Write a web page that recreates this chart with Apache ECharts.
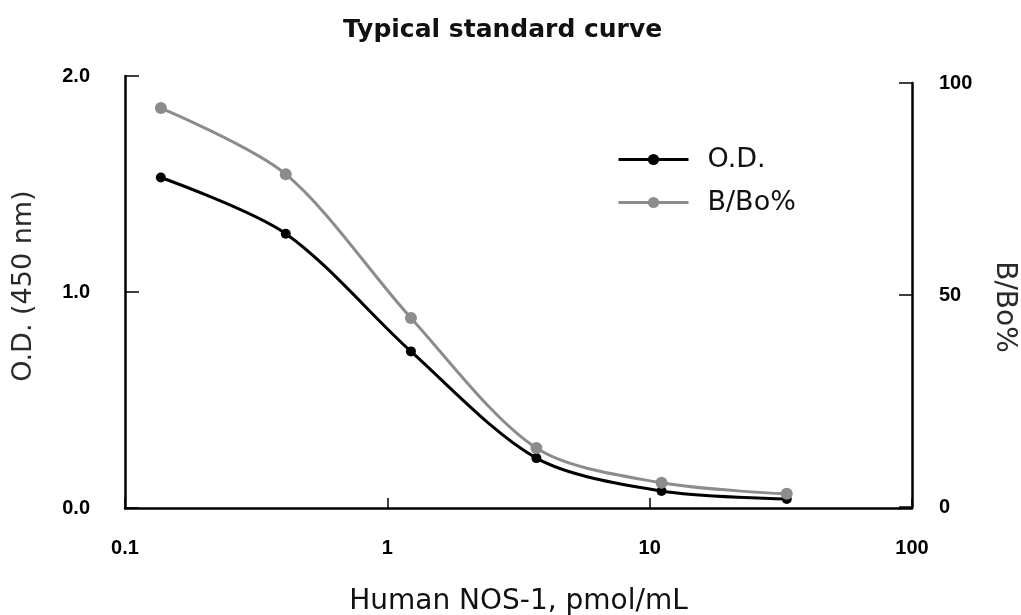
<!DOCTYPE html>
<html>
<head>
<meta charset="utf-8">
<script src="https://cdn.jsdelivr.net/npm/echarts@6/dist/echarts.min.js"></script>
<style>
html,body{margin:0;padding:0;background:#fff;}
#chart{width:1021px;height:615px;}
</style>
</head>
<body>
<div id="chart"></div>
<script>
// Concentration (Human NOS-1, pmol/mL)
const concentrations = [0.137, 0.41, 1.23, 3.7, 11.1, 33.3];
// O.D. at 450 nm
const odValues = [1.53, 1.27, 0.725, 0.231, 0.079, 0.042];
// B/Bo %
const bboValues = [94.1, 78.5, 44.6, 13.9, 5.7, 3.1];
const seriesNames = ['O.D.', 'B/Bo%'];
const xTickLabels = ['0.1', '1', '10', '100'];

const chart = echarts.init(document.getElementById('chart'));
const wide = '"DejaVu Sans", sans-serif';
const narrow = '"Liberation Sans", Arial, sans-serif';

const xCommon = {
  type: 'log', logBase: 10, min: 0.1, max: 100,
  splitLine: {show: false},
  minorTick: {show: false}
};

chart.setOption({
  animation: false,
  backgroundColor: '#ffffff',
  title: {
    text: 'Typical standard curve',
    left: 338, top: 13,
    textStyle: {fontFamily: wide, fontSize: 25, fontWeight: 'bold', color: '#111'}
  },
  legend: {
    data: seriesNames,
    orient: 'vertical',
    left: 617, top: 146, padding: 0,
    itemWidth: 70, itemHeight: 14, itemGap: 16,
    lineStyle: {width: 3},
    textStyle: {fontFamily: wide, fontSize: 27, color: '#111', padding: [0, 0, 0, 14]}
  },
  grid: [
    {left: 125, right: 109, top: 76, bottom: 107, outerBoundsMode: 'none', containLabel: false},
    {left: 125, right: 109, top: 83, bottom: 108, outerBoundsMode: 'none', containLabel: false}
  ],
  xAxis: [
    Object.assign({}, xCommon, {
      gridIndex: 0,
      name: 'Human NOS-1, pmol/mL',
      nameLocation: 'middle', nameGap: 80,
      nameTextStyle: {fontFamily: wide, fontSize: 28, color: '#111'},
      axisLine: {show: true, lineStyle: {color: '#000', width: 2.5}},
      axisTick: {show: true, inside: true, length: 10, lineStyle: {color: '#000', width: 1.5}},
      axisLabel: {
        margin: 30, fontFamily: narrow, fontSize: 20, fontWeight: 'bold', color: '#000',
        formatter: function (v) {
          const i = Math.round(Math.log10(v)) + 1;
          return xTickLabels[i] !== undefined ? xTickLabels[i] : '';
        }
      }
    }),
    Object.assign({}, xCommon, {
      gridIndex: 1, show: false
    })
  ],
  yAxis: [
    {
      gridIndex: 0, type: 'value', min: 0, max: 2, interval: 1,
      position: 'left',
      name: 'O.D. (450 nm)', nameLocation: 'middle', nameGap: 88,
      nameTextStyle: {fontFamily: wide, fontSize: 27, color: '#2a2a2a', padding: [0, 0, 0, 12]},
      splitLine: {show: false},
      axisLine: {show: true, lineStyle: {color: '#000', width: 2.5}},
      axisTick: {show: true, inside: true, length: 14, lineStyle: {color: '#000', width: 1.5}},
      axisLabel: {
        margin: 35, fontFamily: narrow, fontSize: 20, fontWeight: 'bold', color: '#000',
        formatter: function (v) { return v.toFixed(1); }
      }
    },
    {
      gridIndex: 1, type: 'value', min: 0, max: 100, interval: 50,
      position: 'right',
      name: 'B/Bo%', nameLocation: 'middle', nameGap: 78, nameRotate: -90,
      nameTextStyle: {fontFamily: wide, fontSize: 28, color: '#2a2a2a', padding: [0, 0, 0, 24]},
      splitLine: {show: false},
      axisLine: {show: true, lineStyle: {color: '#000', width: 2.5}},
      axisTick: {show: true, inside: true, length: 13, lineStyle: {color: '#000', width: 1.5}},
      axisLabel: {
        margin: 27, fontFamily: narrow, fontSize: 20, fontWeight: 'bold', color: '#000'
      }
    }
  ],
  series: [
    {
      name: seriesNames[0], type: 'line',
      xAxisIndex: 0, yAxisIndex: 0,
      data: concentrations.map((c, i) => [c, odValues[i]]),
      smooth: 0.3,
      symbol: 'circle', symbolSize: 10,
      itemStyle: {color: '#000'},
      lineStyle: {color: '#000', width: 3}
    },
    {
      name: seriesNames[1], type: 'line',
      xAxisIndex: 1, yAxisIndex: 1,
      data: concentrations.map((c, i) => [c, bboValues[i]]),
      smooth: 0.3,
      symbol: 'circle', symbolSize: 12,
      itemStyle: {color: '#8c8c8c'},
      lineStyle: {color: '#8c8c8c', width: 3}
    }
  ]
});
</script>
</body>
</html>
